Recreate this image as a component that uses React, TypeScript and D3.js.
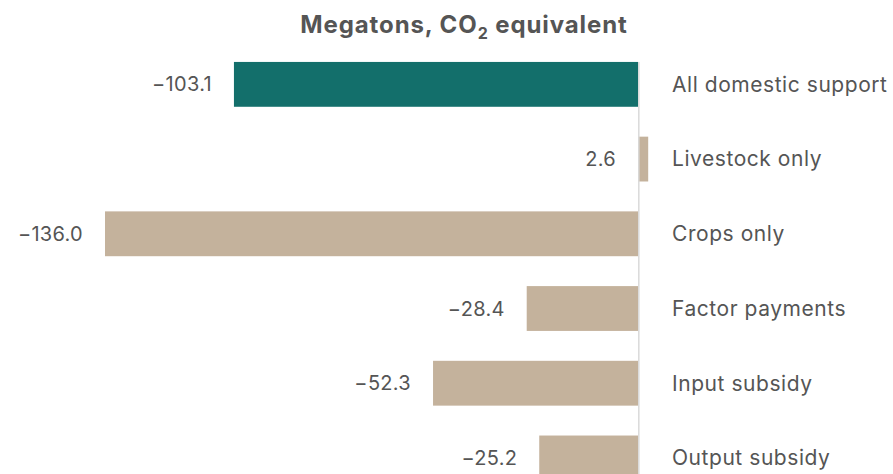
import React from "react";
import * as d3 from "d3";

const categories = [
  "All domestic support",
  "Livestock only",
  "Crops only",
  "Factor payments",
  "Input subsidy",
  "Output subsidy",
];
const values = [-103.1, 2.6, -136.0, -28.4, -52.3, -25.2];
const highlight = ["All domestic support"];

const WIDTH = 893;
const HEIGHT = 474;
const TEAL = "#136f6b";
const TAN = "#c4b29c";
const TEXT = "#555555";
const FONT = "Inter, 'Open Sans', sans-serif";

const App = () => {
  const data = categories.map((c, i) => ({ category: c, value: values[i] }));

  // x-scale for bar lengths
  const x = d3
    .scaleLinear()
    .domain([d3.min(values) as number, d3.max(values) as number])
    .range([105, 648.2]);

  // y-scale for rows
  const y = d3
    .scaleBand()
    .domain(categories)
    .range([47, 495.3])
    .paddingInner(0.4)
    .paddingOuter(0.2);

  const zero = x(0);

  return (
    <svg
      width={WIDTH}
      height={HEIGHT}
      style={{ position: "absolute", left: 0, top: 0, background: "#fff" }}
    >
      <text
        x={464}
        y={33}
        textAnchor="middle"
        fill={TEXT}
        fontFamily={FONT}
        fontWeight={700}
        fontSize={24}
        letterSpacing={0.9}
      >
        Megatons, CO
        <tspan fontSize={16} dy={6}>
          2
        </tspan>
        <tspan dy={-6}> equivalent</tspan>
      </text>

      {data.map((d) => {
        const y0 = y(d.category) as number;
        const cy = y0 + y.bandwidth() / 2;
        return (
          <g key={d.category}>
            <rect
              x={x(Math.min(0, d.value))}
              y={y0}
              width={Math.abs(x(d.value) - zero)}
              height={y.bandwidth()}
              fill={highlight.includes(d.category) ? TEAL : TAN}
            />
            <text
              x={x(Math.min(0, d.value)) - 22}
              y={cy}
              dy="0.35em"
              textAnchor="end"
              fill={TEXT}
              fontFamily={FONT}
              fontSize={20}
              letterSpacing={0.3}
            >
              {d.value.toFixed(1).replace("-", "\u2212")}
            </text>
            <text
              x={zero + 34}
              y={cy}
              dy="0.35em"
              fill={TEXT}
              fontFamily={FONT}
              fontSize={21}
              letterSpacing={0.55}
            >
              {d.category}
            </text>
          </g>
        );
      })}

      <line
        x1={zero + 0.8}
        x2={zero + 0.8}
        y1={y(categories[0]) as number}
        y2={HEIGHT}
        stroke="#d9d9d9"
        strokeWidth={1.5}
      />
    </svg>
  );
};

export default App;
